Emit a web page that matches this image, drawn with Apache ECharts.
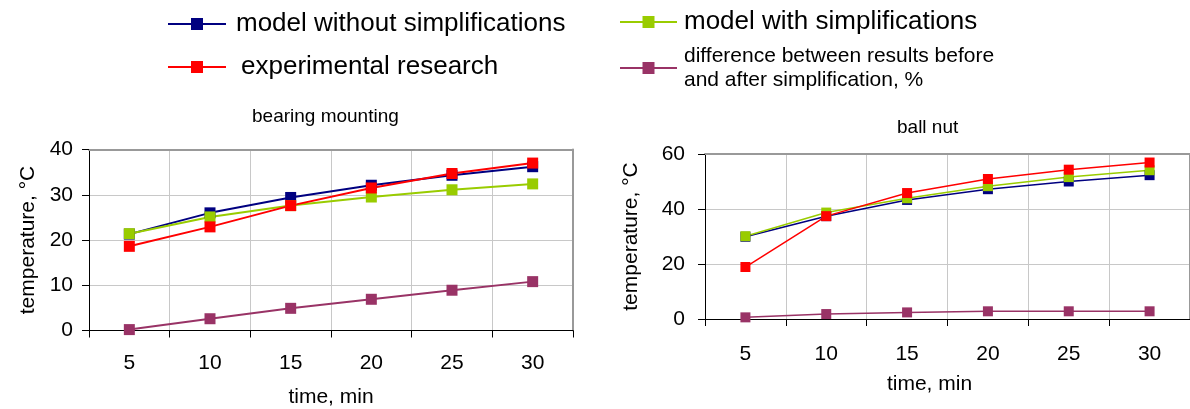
<!DOCTYPE html>
<html>
<head>
<meta charset="utf-8">
<script src="https://cdn.jsdelivr.net/npm/echarts@6/dist/echarts.min.js"></script>
<style>
html,body{margin:0;padding:0;background:#fff;}
#chart{width:1190px;height:409px;}
</style>
</head>
<body>
<div id="chart"></div>
<script>
const categories = ['5', '10', '15', '20', '25', '30'];
const seriesNames = [
  'model without simplifications',
  'model with simplifications',
  'experimental research',
  'difference between results before and after simplification, %'
];
// bearing mounting
const bearingWithout = [21.3, 26.0, 29.4, 32.1, 34.3, 36.2];
const bearingWith = [21.4, 25.1, 27.6, 29.5, 31.1, 32.4];
const bearingExperimental = [18.6, 22.9, 27.6, 31.5, 34.7, 37.0];
const bearingDifference = [0.2, 2.6, 4.9, 6.9, 8.9, 10.8];
// ball nut
const nutWithout = [29.9, 37.4, 43.3, 47.2, 50.0, 52.3];
const nutWith = [30.1, 38.7, 43.9, 48.3, 51.6, 54.1];
const nutExperimental = [18.9, 37.4, 45.8, 50.9, 54.3, 56.9];
const nutDifference = [0.6, 1.8, 2.4, 2.8, 2.8, 2.8];
const leftTicks = {min: 0, max: 40, interval: 10};
const rightTicks = {min: 0, max: 60, interval: 20};

const colors = ['#000080', '#99CC00', '#FF0000', '#993366'];
const FONT = 'Liberation Sans, Arial, sans-serif';

const chart = echarts.init(document.getElementById('chart'));

function catAxis(grid, gap, labelMargin, namePad) {
  return {
    type: 'category', gridIndex: grid, data: categories, boundaryGap: true,
    axisLine: {show: true, lineStyle: {color: '#000', width: 1}},
    axisTick: {show: true, interval: 0, length: 7, inside: false, lineStyle: {color: '#000'}},
    axisLabel: {interval: 0, margin: labelMargin, fontSize: 21, color: '#000', fontFamily: FONT},
    splitLine: {show: true, interval: 0, lineStyle: {color: '#c8c8c8', width: 1}},
    name: 'time, min', nameLocation: 'middle', nameGap: gap,
    nameTextStyle: {fontSize: 21, color: '#000', fontFamily: FONT, padding: namePad}
  };
}
function valAxis(grid, ticks, gap, labelMargin) {
  return {
    type: 'value', gridIndex: grid, min: ticks.min, max: ticks.max, interval: ticks.interval,
    axisLine: {show: true, lineStyle: {color: '#000', width: 1}},
    axisTick: {show: true, length: 7, lineStyle: {color: '#000'}},
    axisLabel: {margin: labelMargin, fontSize: 21, color: '#000', fontFamily: FONT},
    splitLine: {show: true, lineStyle: {color: '#c8c8c8', width: 1}},
    name: 'temperature, °C', nameLocation: 'middle', nameGap: gap, nameRotate: 90,
    nameTextStyle: {fontSize: 21, color: '#000', fontFamily: FONT}
  };
}
function borderX(grid) {
  return {type: 'value', gridIndex: grid, position: 'top', min: 0, max: 1,
    axisLine: {show: true, onZero: false, lineStyle: {color: '#999', width: 2}},
    axisTick: {show: false}, axisLabel: {show: false}, splitLine: {show: false}};
}
function borderY(grid) {
  return {type: 'value', gridIndex: grid, position: 'right', min: 0, max: 1,
    axisLine: {show: true, onZero: false, lineStyle: {color: '#999', width: 2}},
    axisTick: {show: false}, axisLabel: {show: false}, splitLine: {show: false}};
}
function line(nameIdx, data, xi, yi, width, size) {
  return {
    name: seriesNames[nameIdx], type: 'line', xAxisIndex: xi, yAxisIndex: yi, data: data,
    symbol: 'rect', symbolSize: size, showSymbol: true, animation: false,
    lineStyle: {color: colors[nameIdx], width: width},
    itemStyle: {color: colors[nameIdx]}
  };
}
function legend(name, left, top, fontSize, iconW, textPad, extra) {
  return Object.assign({
    data: [name], left: left, top: top, orient: 'horizontal', padding: 0,
    itemWidth: iconW, itemHeight: 15, itemGap: 0,
    textStyle: {fontSize: fontSize, color: '#000', fontFamily: FONT, padding: textPad}
  }, extra || {});
}

chart.setOption({
  animation: false,
  backgroundColor: '#fff',
  title: [
    {text: 'bearing mounting', left: 252, top: 107, padding: 0,
     textStyle: {fontSize: 19, fontWeight: 'normal', color: '#000', fontFamily: FONT}},
    {text: 'ball nut', left: 897, top: 118, padding: 0,
     textStyle: {fontSize: 19, fontWeight: 'normal', color: '#000', fontFamily: FONT}}
  ],
  legend: [
    legend(seriesNames[0], 167, 11, 26, 58, [0, 0, 0, 5]),
    legend(seriesNames[2], 167, 54, 26, 58, [0, 0, 0, 10]),
    legend(seriesNames[1], 619, 9, 26, 57, [0, 0, 0, 2]),
    legend(seriesNames[3], 619, 37, 21, 57, [0, 0, 14, 2], {
      formatter: function () { return 'difference between results before\nand after simplification, %'; },
      textStyle: {fontSize: 21, lineHeight: 24, color: '#000', fontFamily: FONT, padding: [0, 0, 14, 2]}
    })
  ],
  grid: [
    {left: 89, top: 149.5, width: 484, height: 181},
    {left: 705, top: 154, width: 490, height: 165}
  ],
  xAxis: [catAxis(0, 56, 22, 0), catAxis(1, 55, 25, [0, 36, 0, 0]), borderX(0), borderX(1)],
  yAxis: [valAxis(0, leftTicks, 50, 16), valAxis(1, rightTicks, 63, 20), borderY(0), borderY(1)],
  series: [
    line(0, bearingWithout, 0, 0, 2, 11),
    line(1, bearingWith, 0, 0, 2, 11),
    line(2, bearingExperimental, 0, 0, 2, 11),
    line(3, bearingDifference, 0, 0, 2, 11),
    line(0, nutWithout, 1, 1, 1.5, 10),
    line(1, nutWith, 1, 1, 1.5, 10),
    line(2, nutExperimental, 1, 1, 1.5, 10),
    line(3, nutDifference, 1, 1, 1.5, 10)
  ]
});
</script>
</body>
</html>
